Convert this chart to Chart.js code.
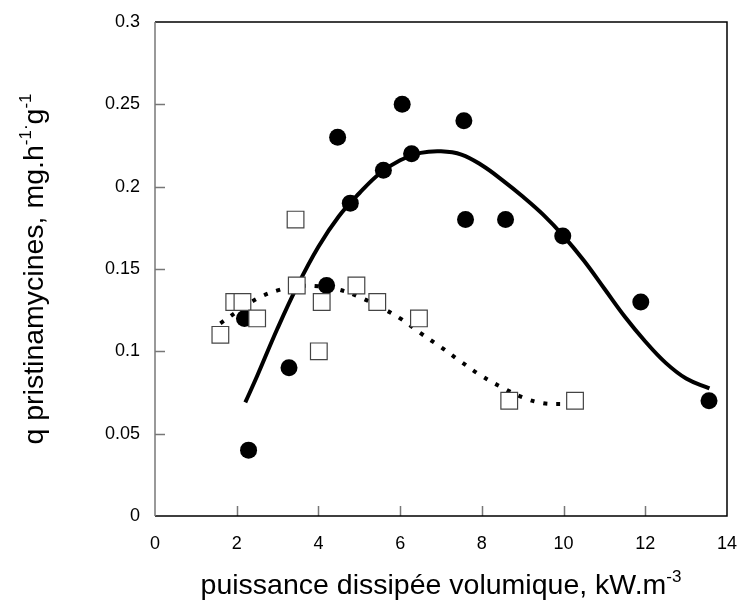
<!DOCTYPE html>
<html>
<head>
<meta charset="utf-8">
<script src="https://cdn.jsdelivr.net/npm/chart.js@4"></script>
<style>
  html, body { margin: 0; padding: 0; background: #fff; }
  #wrap { width: 740px; height: 600px; }
</style>
</head>
<body>
<div id="wrap"><canvas id="chart" width="740" height="600"></canvas></div>
<script>
// open squares
const squareX = [1.6, 1.94, 2.14, 2.5, 3.44, 3.47, 4.01, 4.08, 4.93, 5.44, 6.46, 8.67, 10.28];
const squareY = [0.11, 0.13, 0.13, 0.12, 0.18, 0.14, 0.10, 0.13, 0.14, 0.13, 0.12, 0.07, 0.07];

// filled circles
const circleX = [2.19, 2.29, 3.28, 4.2, 4.47, 4.78, 5.59, 6.05, 6.28, 7.56, 7.6, 8.58, 9.98, 11.89, 13.56];
const circleY = [0.12, 0.04, 0.09, 0.14, 0.23, 0.19, 0.21, 0.25, 0.22, 0.24, 0.18, 0.18, 0.17, 0.13, 0.07];

// fitted curve through the circles (solid)
const fitSolidX = [2.21, 2.5, 3.0, 3.5, 4.0, 4.5, 5.0, 5.5, 6.0, 6.5, 7.0, 7.5, 8.0, 8.5, 9.0, 9.5, 10.0, 10.5, 11.0, 11.5, 12.0, 12.5, 13.0, 13.57];
const fitSolidY = [0.069, 0.085, 0.114, 0.1405, 0.1635, 0.182, 0.196, 0.208, 0.216, 0.2205, 0.2215, 0.2195, 0.213, 0.204, 0.194, 0.183, 0.170, 0.155, 0.138, 0.121, 0.106, 0.093, 0.0835, 0.0775];

// fitted curve through the squares (dotted)
const fitDotX = [1.6, 2.0, 2.5, 3.0, 3.5, 4.0, 4.5, 5.0, 5.5, 6.0, 6.5, 7.0, 7.5, 8.0, 8.5, 9.0, 9.5, 10.0];
const fitDotY = [0.117, 0.124, 0.132, 0.137, 0.1395, 0.1395, 0.1375, 0.133, 0.127, 0.120, 0.111, 0.1025, 0.0935, 0.085, 0.078, 0.072, 0.0685, 0.068];

const xTicks = [0, 2, 4, 6, 8, 10, 12, 14];
const yTicks = [0, 0.05, 0.1, 0.15, 0.2, 0.25, 0.3];

const FONT = "'Liberation Sans', Arial, Helvetica, sans-serif";

function pts(xs, ys) {
    return xs.map((x, i) => ({ x: x, y: ys[i] }));
}

// draws text made of normal / superscript pieces, centred on (0,0)
function drawRich(ctx, parts, size, supSize, rise) {
    let total = 0;
    parts.forEach(p => {
        ctx.font = (p.sup ? supSize : size) + 'px ' + FONT;
        p.w = ctx.measureText(p.t).width;
        total += p.w;
    });
    let x = -total / 2;
    ctx.textAlign = 'left';
    ctx.textBaseline = 'alphabetic';
    parts.forEach(p => {
        ctx.font = (p.sup ? supSize : size) + 'px ' + FONT;
        ctx.fillText(p.t, x, p.sup ? -rise : 0);
        x += p.w;
    });
}

const framePlugin = {
    id: 'frame',
    afterDatasetsDraw(chart) {
        const ctx = chart.ctx;
        const a = chart.chartArea;
        const xs = chart.scales.x, ys = chart.scales.y;
        ctx.save();
        // inward tick marks
        ctx.lineWidth = 1.5;
        ctx.strokeStyle = '#777';
        ctx.beginPath();
        xTicks.forEach(v => {
            const px = Math.round(xs.getPixelForValue(v)) + 0.5;
            if (v === 0 || v === 14) return;
            ctx.moveTo(px, a.bottom);
            ctx.lineTo(px, a.bottom - 10);
        });
        yTicks.forEach(v => {
            const py = Math.round(ys.getPixelForValue(v)) + 0.5;
            if (v === 0 || v === 0.3) return;
            ctx.moveTo(a.left, py);
            ctx.lineTo(a.left + 10, py);
        });
        ctx.stroke();
        // box
        ctx.lineWidth = 1.5;
        ctx.strokeStyle = '#000';
        ctx.beginPath();
        ctx.moveTo(a.left, a.top);
        ctx.lineTo(a.right, a.top);
        ctx.lineTo(a.right, a.bottom);
        ctx.lineTo(a.left, a.bottom);
        ctx.stroke();
        ctx.strokeStyle = '#777';
        ctx.beginPath();
        ctx.moveTo(a.left, a.top);
        ctx.lineTo(a.left, a.bottom);
        ctx.stroke();

        // axis titles
        ctx.fillStyle = '#000';
        ctx.save();
        ctx.translate((a.left + a.right) / 2, 594);
        drawRich(ctx, [
            { t: 'puissance dissipée volumique, kW.m' },
            { t: '-3', sup: true }
        ], 28.5, 17, 12);
        ctx.restore();

        ctx.save();
        ctx.translate(43, (a.top + a.bottom) / 2);
        ctx.rotate(-Math.PI / 2);
        drawRich(ctx, [
            { t: 'q pristinamycines, mg.h' },
            { t: '-1·', sup: true },
            { t: 'g' },
            { t: '-1', sup: true }
        ], 28.5, 17, 12);
        ctx.restore();
        ctx.restore();
    }
};

new Chart(document.getElementById('chart').getContext('2d'), {
    type: 'scatter',
    data: {
        datasets: [
            {
                label: 'carrés',
                data: pts(squareX, squareY),
                pointStyle: 'rect',
                pointRadius: 11.8,
                pointBackgroundColor: '#fff',
                pointBorderColor: '#444',
                pointBorderWidth: 1.2,
                showLine: false
            },
            {
                label: 'ronds',
                data: pts(circleX, circleY),
                pointStyle: 'circle',
                pointRadius: 8.5,
                pointBackgroundColor: '#000',
                pointBorderColor: '#000',
                pointBorderWidth: 0,
                showLine: false
            },
            {
                label: 'ajustement ronds',
                data: pts(fitSolidX, fitSolidY),
                showLine: true,
                pointRadius: 0,
                borderColor: '#000',
                borderWidth: 4,
                tension: 0.4,
                fill: false
            },
            {
                label: 'ajustement carrés',
                data: pts(fitDotX, fitDotY),
                showLine: true,
                pointRadius: 0,
                borderColor: '#000',
                borderWidth: 4,
                borderDash: [4, 9],
                tension: 0.4,
                fill: false
            }
        ]
    },
    options: {
        responsive: false,
        animation: false,
        layout: { padding: { left: 0, top: 22, right: 9, bottom: 0 } },
        plugins: {
            legend: { display: false },
            tooltip: { enabled: false }
        },
        scales: {
            x: {
                type: 'linear',
                min: 0,
                max: 14,
                afterBuildTicks: s => { s.ticks = xTicks.map(v => ({ value: v })); },
                afterFit: s => { s.height = 84; s.paddingLeft = 0; s.paddingRight = 0; },
                grid: { display: true, drawOnChartArea: false, drawTicks: false },
                border: { display: false },
                ticks: {
                    padding: 17,
                    color: '#000',
                    font: { family: FONT, size: 18 },
                    maxRotation: 0
                }
            },
            y: {
                type: 'linear',
                min: 0,
                max: 0.3,
                afterBuildTicks: s => { s.ticks = yTicks.map(v => ({ value: v })); },
                afterFit: s => { s.width = 155; s.paddingTop = 0; s.paddingBottom = 0; },
                grid: { display: true, drawOnChartArea: false, drawTicks: false },
                border: { display: false },
                ticks: {
                    padding: 15,
                    color: '#000',
                    font: { family: FONT, size: 18 },
                    callback: v => String(Math.round(v * 100) / 100)
                }
            }
        }
    },
    plugins: [framePlugin]
});
</script>
</body>
</html>
